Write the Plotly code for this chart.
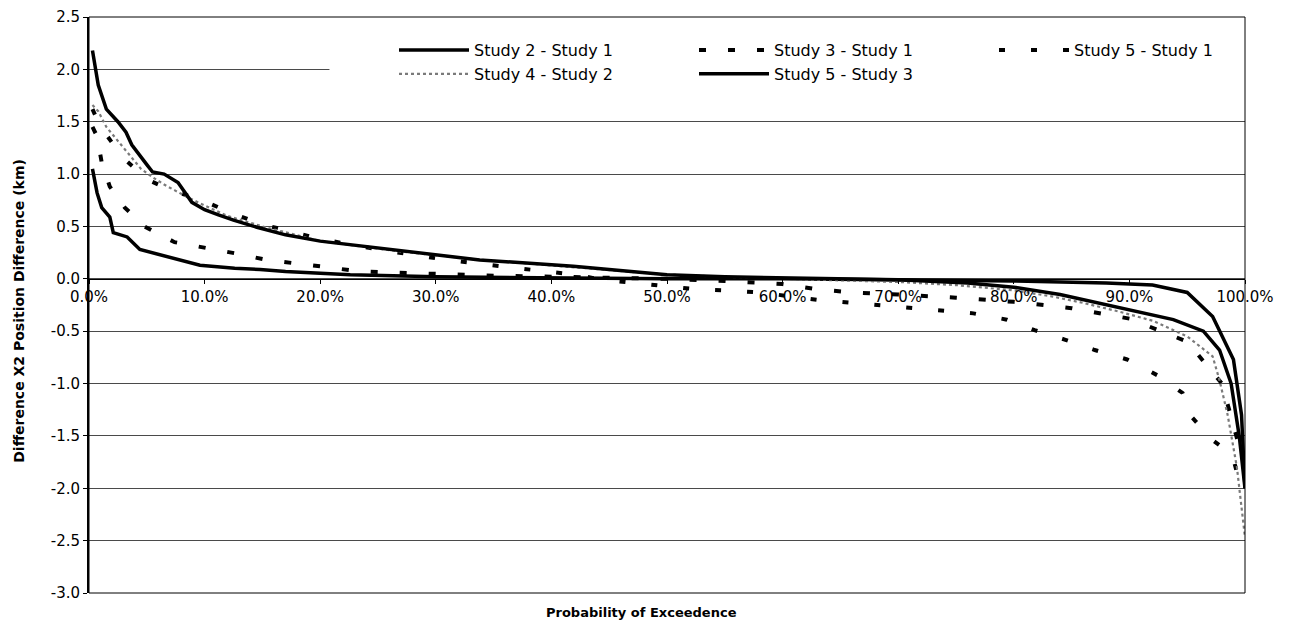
import numpy as np
import plotly.graph_objects as go

# ---- data (x: probability of exceedence in %, y: difference in km) ----
s21_x = [0.3, 0.7, 1.1, 1.8, 2.1, 3.3, 4.4, 6.1, 7.2, 9.6, 12.6, 14.8, 17, 22.6, 30, 40, 50, 60, 70, 80, 88, 92, 95, 97.2, 99, 99.7, 100]
s21_y = [1.05, 0.82, 0.68, 0.59, 0.44, 0.40, 0.28, 0.23, 0.20, 0.13, 0.10, 0.09, 0.07, 0.04, 0.02, 0.01, 0.0, 0.0, -0.01, -0.02, -0.04, -0.06, -0.13, -0.36, -0.77, -1.3, -2.0]

s31_x = [0.3, 0.7, 1.1, 1.8, 3.1, 4.8, 7.4, 10, 12.8, 15.4, 18, 20.7, 23.4, 26, 30, 35, 40, 45, 50, 55, 60, 63, 66, 70, 75, 80, 85, 90, 95, 98, 100]
s31_y = [1.45, 1.36, 1.11, 0.88, 0.68, 0.50, 0.35, 0.30, 0.24, 0.18, 0.15, 0.11, 0.07, 0.06, 0.04, 0.03, 0.02, 0.01, 0.0, -0.02, -0.05, -0.10, -0.13, -0.15, -0.18, -0.22, -0.28, -0.38, -0.60, -1.0, -1.8]

s51_x = [0.3, 1, 2, 3, 5, 7, 9.8, 12.5, 15, 20, 25, 31, 36.4, 39, 42, 44.5, 47, 50, 52.6, 55, 58, 63, 66, 68.7, 73.9, 76.5, 79.4, 81.8, 84.4, 87, 89.8, 92.4, 94.6, 95.4, 97.2, 98.9, 99.4, 100]
s51_y = [1.62, 1.45, 1.30, 1.15, 0.95, 0.85, 0.75, 0.62, 0.52, 0.38, 0.28, 0.18, 0.11, 0.08, 0.04, -0.01, -0.04, -0.07, -0.10, -0.11, -0.13, -0.20, -0.23, -0.25, -0.30, -0.33, -0.39, -0.49, -0.58, -0.68, -0.77, -0.92, -1.09, -1.32, -1.54, -1.68, -1.89, -2.05]

s42_x = [0.3, 0.8, 1.5, 2.5, 3.5, 4.5, 5.5, 6.5, 7.5, 8.5, 10, 12, 15, 20, 27, 34, 42, 50, 60, 70, 75, 80, 83.4, 86, 89, 92, 95, 97.2, 97.8, 98.5, 99.3, 100]
s42_y = [1.66, 1.60, 1.45, 1.32, 1.18, 1.05, 0.97, 0.90, 0.84, 0.78, 0.70, 0.60, 0.50, 0.36, 0.26, 0.18, 0.11, 0.04, 0.0, -0.03, -0.06, -0.11, -0.17, -0.23, -0.31, -0.40, -0.55, -0.74, -0.97, -1.3, -1.8, -2.47]

s53_x = [0.3, 0.8, 1.5, 2.5, 3.2, 3.7, 5.0, 5.5, 6.5, 7.7, 8.9, 10, 11.2, 12.5, 14.6, 17, 20, 24, 27.5, 33.8, 41.9, 46, 50, 55, 60, 70, 76, 80, 84, 88, 91, 93.8, 96.4, 97.8, 98.8, 99.5, 100]
s53_y = [2.18, 1.85, 1.62, 1.50, 1.40, 1.28, 1.09, 1.02, 1.00, 0.92, 0.73, 0.66, 0.61, 0.56, 0.49, 0.42, 0.36, 0.31, 0.26, 0.18, 0.12, 0.08, 0.04, 0.02, 0.01, -0.01, -0.04, -0.08, -0.15, -0.25, -0.32, -0.39, -0.50, -0.68, -1.0, -1.5, -2.0]

series_names = ["Study 2 - Study 1", "Study 3 - Study 1", "Study 5 - Study 1",
                "Study 4 - Study 2", "Study 5 - Study 3"]
y_ticks = [-3.0, -2.5, -2.0, -1.5, -1.0, -0.5, 0.0, 0.5, 1.0, 1.5, 2.0, 2.5]
x_ticks = [0, 10, 20, 30, 40, 50, 60, 70, 80, 90, 100]

series = [
    (s21_x, s21_y, dict(color="black", width=3.5, dash="solid")),
    (s31_x, s31_y, dict(color="black", width=4, dash="7px,22px")),
    (s51_x, s51_y, dict(color="black", width=4, dash="6px,26px")),
    (s42_x, s42_y, dict(color="#7a7a7a", width=2.2, dash="dot")),
    (s53_x, s53_y, dict(color="black", width=3.5, dash="solid")),
]

fig = go.Figure()
for name, (xs, ys, ln) in zip(series_names, series):
    fig.add_trace(go.Scatter(x=np.array(xs) / 100.0, y=ys, mode="lines",
                             name=name, line=ln))

FONT = "DejaVu Sans"
y_min, y_max = -3.0, 2.5
zero_pos = (0 - y_min) / (y_max - y_min)

# page body has an 8px default margin; plot area targeted at x 89..1245, y 17..593 in the window
fig.update_layout(
    width=1283, height=621,
    margin=dict(l=81, r=46, t=9, b=36, autoexpand=False),
    paper_bgcolor="white", plot_bgcolor="white",
    font=dict(family=FONT, color="black", size=15),
    showlegend=True,
    legend=dict(orientation="h", x=(394 - 89) / 1156, y=0.972, xanchor="left", yanchor="top",
                bgcolor="rgba(255,255,255,0)", borderwidth=0, itemwidth=70,
                font=dict(family=FONT, size=16, color="black"),
                entrywidth=215, entrywidthmode="pixels", tracegroupgap=0),
    xaxis=dict(range=[0, 1], tickvals=[v / 100 for v in x_ticks],
               ticktext=[f"{v:.1f}%" for v in x_ticks],
               showgrid=False, zeroline=False, showline=True, linecolor="black", linewidth=1,
               ticks="outside", ticklen=4, tickcolor="black",
               anchor="free", position=zero_pos,
               tickfont=dict(family=FONT, size=15, color="black")),
    yaxis=dict(range=[y_min, y_max], tickvals=y_ticks,
               ticktext=[f"{v:.1f}" for v in y_ticks],
               showgrid=True, gridcolor="#4a4a4a", gridwidth=1, zeroline=False,
               showline=True, linecolor="black", linewidth=2,
               ticks="outside", ticklen=4, tickcolor="black",
               tickfont=dict(family=FONT, size=15, color="black")),
    shapes=[
        dict(type="rect", xref="x", yref="y", x0=0.208, x1=1.0, y0=1.78, y1=2.3,
             fillcolor="white", line=dict(width=0), layer="between"),
        dict(type="rect", xref="paper", yref="paper", x0=0, x1=1, y0=0, y1=1,
             line=dict(color="black", width=1), layer="above"),
    ],
    annotations=[
        dict(text="<b>Probability of Exceedence</b>", xref="paper", yref="paper",
             x=(641 - 89) / 1156, y=-(612 - 593) / 576, xanchor="center", yanchor="middle",
             showarrow=False, font=dict(family=FONT, size=13, color="black")),
        dict(text="<b>Difference X2 Position Difference (km)</b>", xref="paper", yref="paper",
             x=(19 - 89) / 1156, y=0.49, xanchor="center", yanchor="middle", textangle=-90,
             showarrow=False, font=dict(family=FONT, size=14, color="black")),
    ],
)

fig.write_html("out.html")
